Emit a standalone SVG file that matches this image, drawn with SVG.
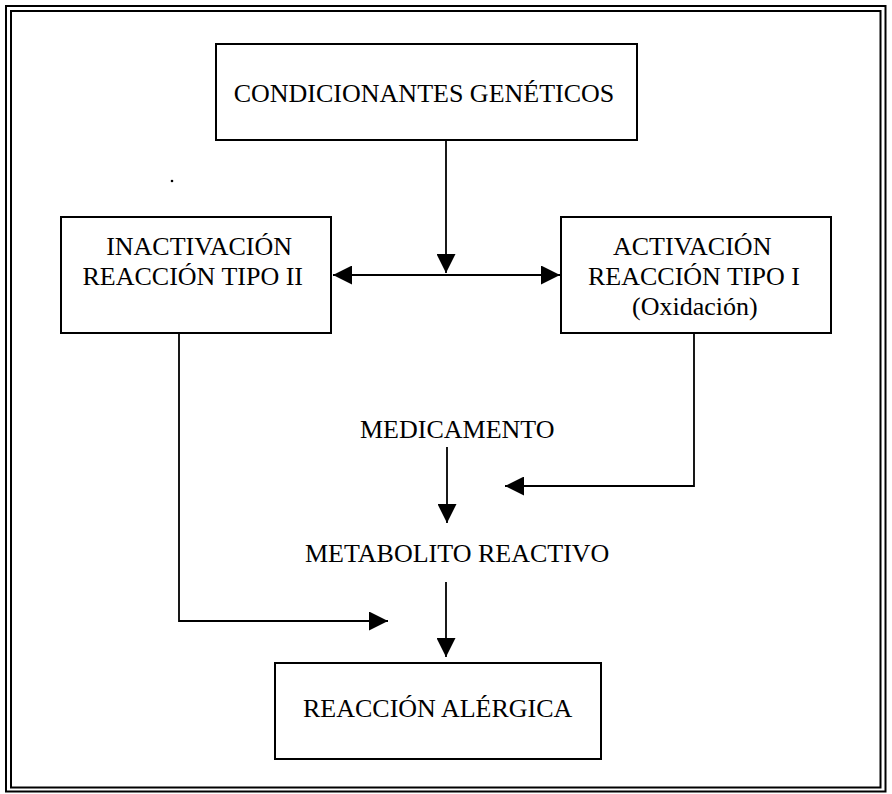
<svg xmlns="http://www.w3.org/2000/svg" width="892" height="794" viewBox="0 0 892 794">
<style>
.frame{fill:none;stroke:#000;stroke-width:2}
.box{fill:#fff;stroke:#000;stroke-width:2}
.lbl{font-family:"Liberation Serif","Times New Roman",serif;font-size:26px;fill:#000}
.conn{fill:none;stroke:#000;stroke-width:1.8}
</style>
<defs>
<marker id="ah" markerUnits="userSpaceOnUse" markerWidth="19" markerHeight="19" viewBox="0 0 19 19" refX="19" refY="9.5" orient="auto-start-reverse">
<path d="M0,0 L19,9.5 L0,19 z" fill="#000"/>
</marker>
</defs>
<rect width="892" height="794" fill="#fff"/>
<rect class="frame" x="6" y="6" width="879.5" height="785.5"/>
<rect class="frame" x="11" y="11" width="869.5" height="776.5"/>
<circle cx="172" cy="181" r="1.3" fill="#000"/>
<g id="connectors">
<path class="conn" d="M446,140 L446,273" marker-end="url(#ah)"/>
<path class="conn" d="M333,275 L560,275" marker-start="url(#ah)" marker-end="url(#ah)"/>
<path class="conn" d="M179,333 L179,621 L388,621" marker-end="url(#ah)"/>
<path class="conn" d="M694,333 L694,486 L505,486" marker-end="url(#ah)"/>
<path class="conn" d="M447,447 L447,523" marker-end="url(#ah)"/>
<path class="conn" d="M446,582 L446,657" marker-end="url(#ah)"/>
</g>
<g id="condicionantes">
<rect class="box" x="216" y="44" width="421" height="96"/>
<text class="lbl" x="424" y="102" text-anchor="middle">CONDICIONANTES GENÉTICOS</text>
</g>
<g id="inactivacion">
<rect class="box" x="61" y="217" width="270" height="116"/>
<text class="lbl" x="292" y="255" text-anchor="end">INACTIVACIÓN</text>
<text class="lbl" x="303" y="285" text-anchor="end">REACCIÓN TIPO II</text>
</g>
<g id="activacion">
<rect class="box" x="561" y="217" width="270" height="116"/>
<text class="lbl" x="613" y="255">ACTIVACIÓN</text>
<text class="lbl" x="588" y="285">REACCIÓN TIPO I</text>
<text class="lbl" x="632" y="315">(Oxidación)</text>
</g>
<g id="medicamento">
<text class="lbl" x="360" y="438">MEDICAMENTO</text>
</g>
<g id="metabolito">
<text class="lbl" x="305" y="562">METABOLITO REACTIVO</text>
</g>
<g id="reaccion">
<rect class="box" x="275" y="663" width="326" height="96"/>
<text class="lbl" x="303" y="717">REACCIÓN ALÉRGICA</text>
</g>
</svg>
